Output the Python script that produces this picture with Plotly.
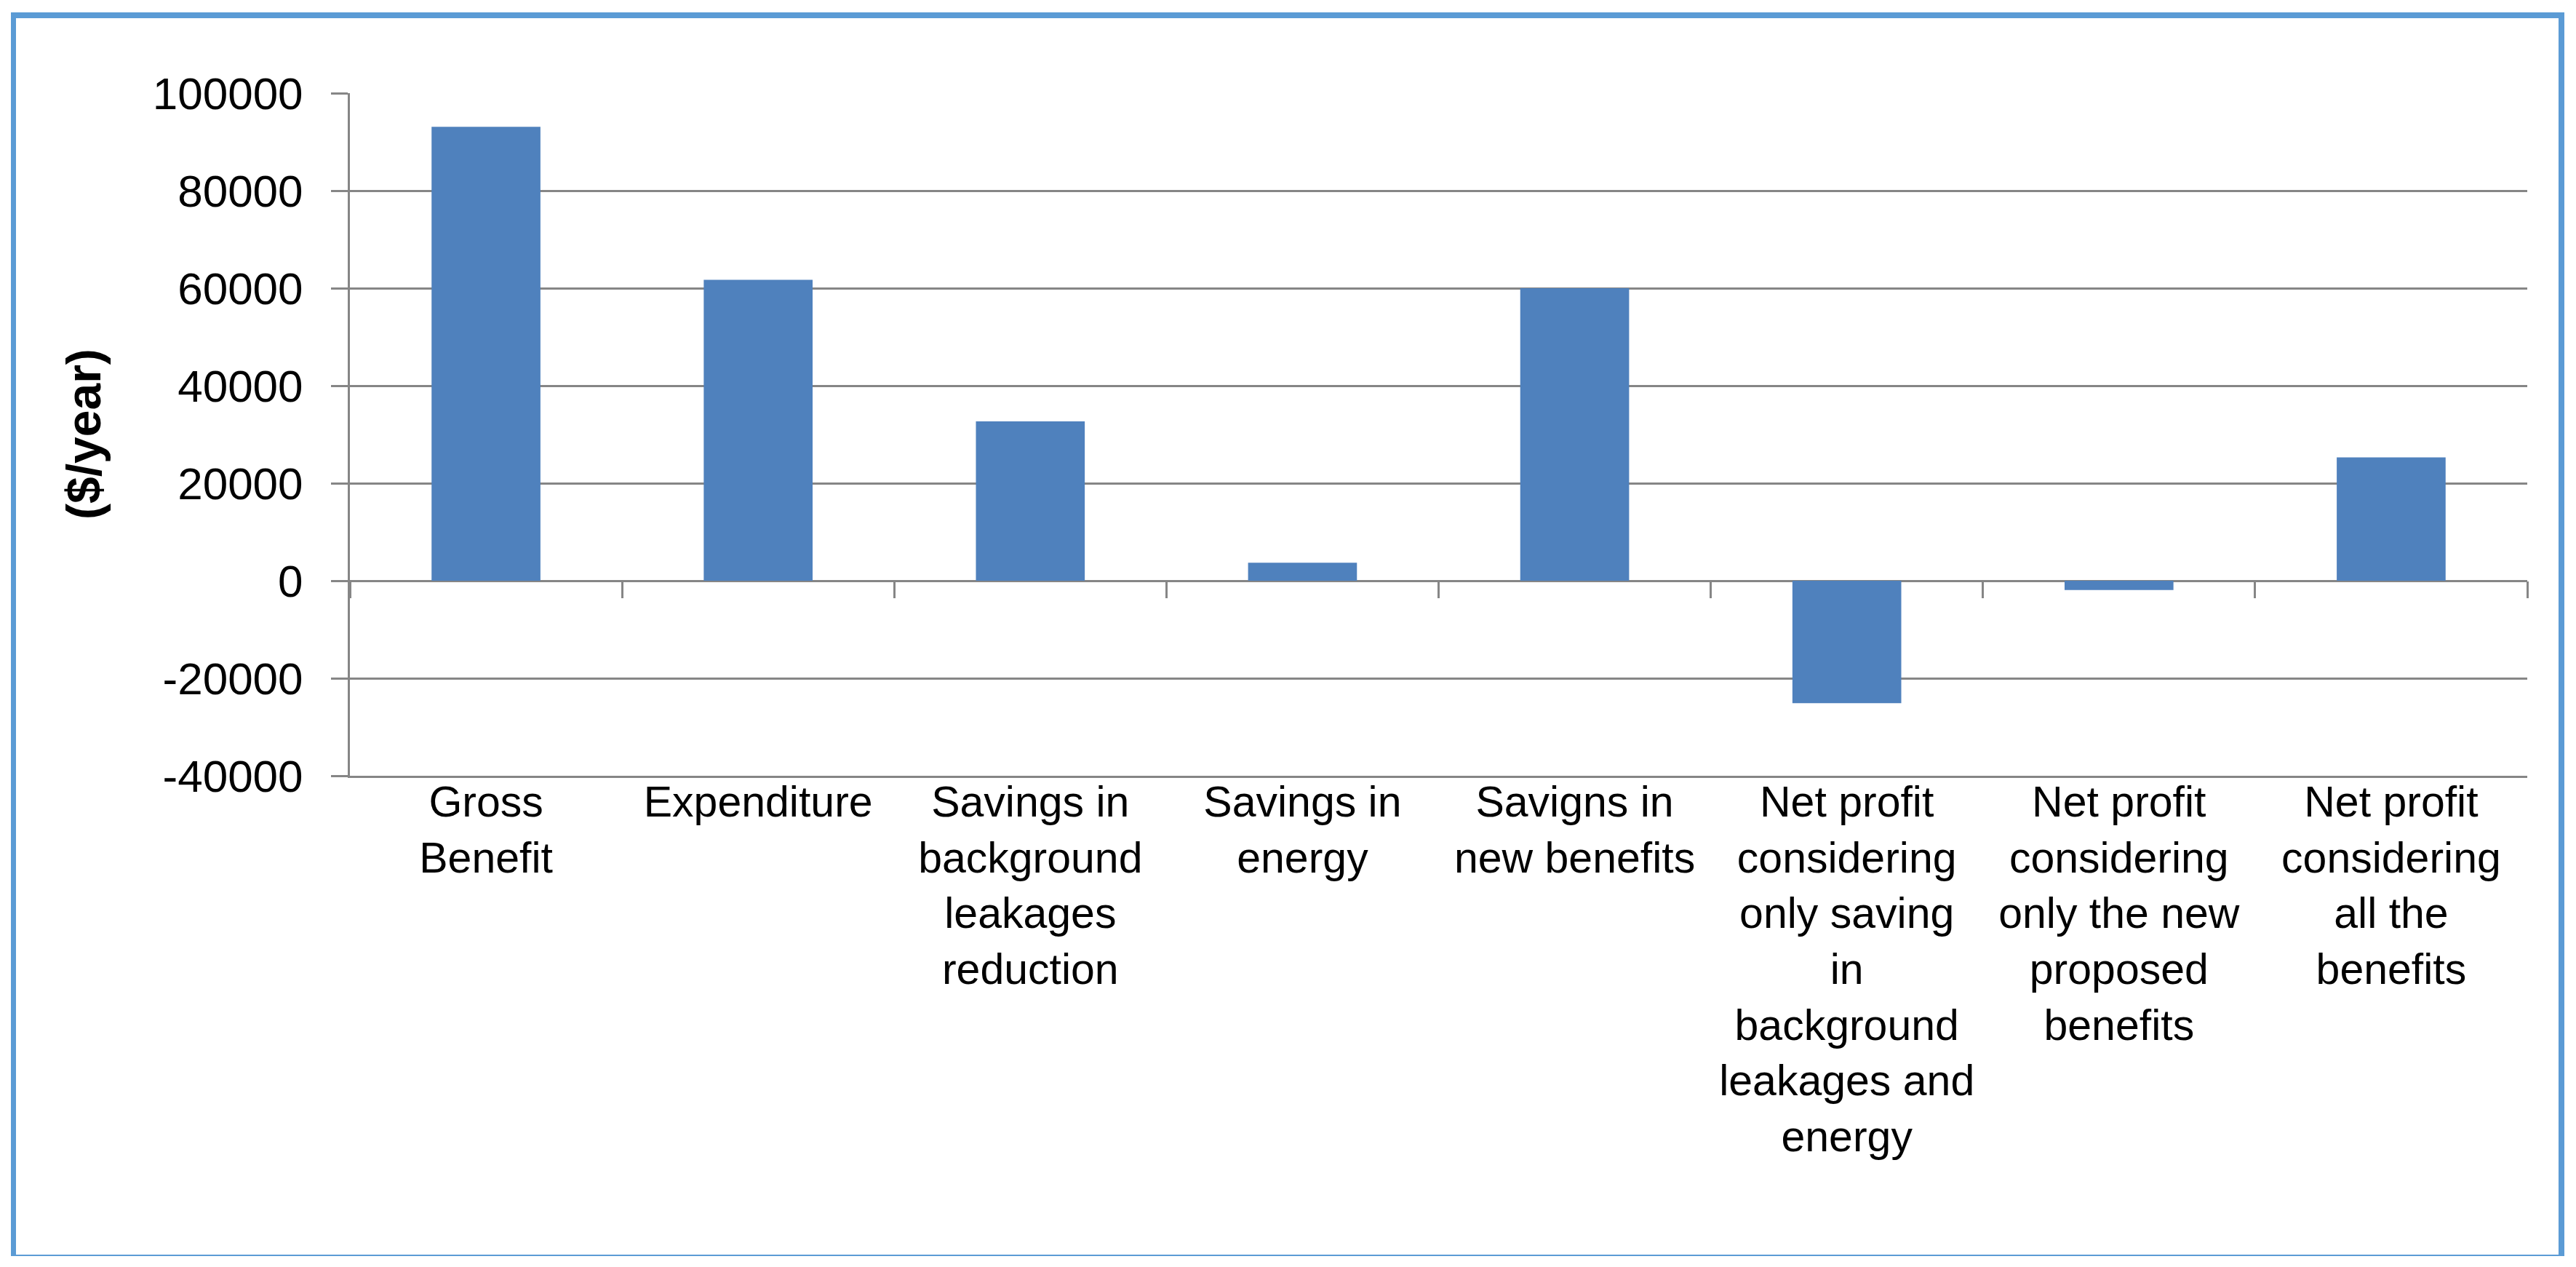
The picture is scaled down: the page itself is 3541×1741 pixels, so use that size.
import plotly.graph_objects as go

# data
categories = [
    "Gross Benefit",
    "Expenditure",
    "Savings in background leakages reduction",
    "Savings in energy",
    "Savigns in new benefits",
    "Net profit considering only saving in background leakages and energy",
    "Net profit considering only the new proposed benefits",
    "Net profit considering all the benefits",
]
tick_labels = [
    "Gross<br>Benefit",
    "Expenditure",
    "Savings in<br>background<br>leakages<br>reduction",
    "Savings in<br>energy",
    "Savigns in<br>new benefits",
    "Net profit<br>considering<br>only saving<br>in<br>background<br>leakages and<br>energy",
    "Net profit<br>considering<br>only the new<br>proposed<br>benefits",
    "Net profit<br>considering<br>all the<br>benefits",
]
values = [93100, 61700, 32700, 3700, 60000, -25100, -1900, 25300]
y_ticks = [-40000, -20000, 0, 20000, 40000, 60000, 80000, 100000]
y_tick_text = ["-40000", "-20000", "0", "20000", "40000", "60000", "80000", "100000"]

# the page puts the figure 8px in from the top left corner
OFF = 8
W, H = 3541 - OFF, 1741 - OFF
# plot area in page pixels
L, R, T, B = 481 - OFF, 3474 - OFF, 128 - OFF, 1066 - OFF
GRID = "#868686"
FRAME = "#5B9BD5"
FONT = "Liberation Sans"

def px(x):
    return (x - OFF - L) / (R - L)

def py(y):
    return (B - (y - OFF)) / (B - T)

fig = go.Figure()
fig.add_trace(go.Bar(x=categories, y=values, width=0.4,
                     marker=dict(color="#4F81BD", line=dict(width=0)),
                     hoverinfo="skip"))
# helper trace so the second x axis (ticks on the zero line) has categories
fig.add_trace(go.Scatter(x=categories, y=values, xaxis="x2", mode="markers",
                         marker=dict(opacity=0), hoverinfo="skip", showlegend=False))

zero_pos = (0 - y_ticks[0]) / (y_ticks[-1] - y_ticks[0])

fig.update_layout(
    width=W, height=H,
    margin=dict(l=L, r=W - R, t=T, b=H - B),
    paper_bgcolor="white", plot_bgcolor="white",
    showlegend=False,
    font=dict(family=FONT, size=59, color="black"),
    xaxis=dict(type="category", categoryarray=categories, range=[-0.5, 7.5],
               tickvals=categories, ticktext=tick_labels,
               showline=True, linecolor=GRID, linewidth=3,
               ticks="", showgrid=False, zeroline=False, ticklabelstandoff=-18,
               tickfont=dict(family=FONT, size=59, color="black")),
    xaxis2=dict(type="category", categoryarray=categories, range=[-0.5, 7.5],
                overlaying="x", anchor="free", position=zero_pos,
                ticks="outside", tickson="boundaries", ticklen=23, tickwidth=3,
                tickcolor=GRID, showticklabels=False, showline=False,
                showgrid=False, zeroline=False),
    yaxis=dict(range=[y_ticks[0], y_ticks[-1]], tickvals=y_ticks, ticktext=y_tick_text,
               showline=True, linecolor=GRID, linewidth=3,
               ticks="outside", ticklen=23, tickwidth=3, tickcolor=GRID,
               ticklabelstandoff=26,
               showgrid=True, gridcolor=GRID, gridwidth=3,
               zeroline=True, zerolinecolor=GRID, zerolinewidth=3,
               tickfont=dict(family=FONT, size=62, color="black")),
)

fig.add_annotation(text="<b>($/year)</b>", textangle=-90, xref="paper", yref="paper",
                   x=px(115), y=0.5, xanchor="center", yanchor="middle", showarrow=False,
                   font=dict(family=FONT, size=66, color="black"))

# light blue frame round the whole chart
fig.add_shape(type="line", xref="paper", yref="paper", x0=px(18.5), x1=px(18.5),
              y0=py(17), y1=py(1726), line=dict(color=FRAME, width=7))
fig.add_shape(type="line", xref="paper", yref="paper", x0=px(3521), x1=px(3521),
              y0=py(17), y1=py(1726), line=dict(color=FRAME, width=8))
fig.add_shape(type="line", xref="paper", yref="paper", x0=px(15), x1=px(3525),
              y0=py(21), y1=py(21), line=dict(color=FRAME, width=8))
fig.add_shape(type="line", xref="paper", yref="paper", x0=px(15), x1=px(3525),
              y0=py(1725), y1=py(1725), line=dict(color=FRAME, width=2))

fig.write_html("out.html")
